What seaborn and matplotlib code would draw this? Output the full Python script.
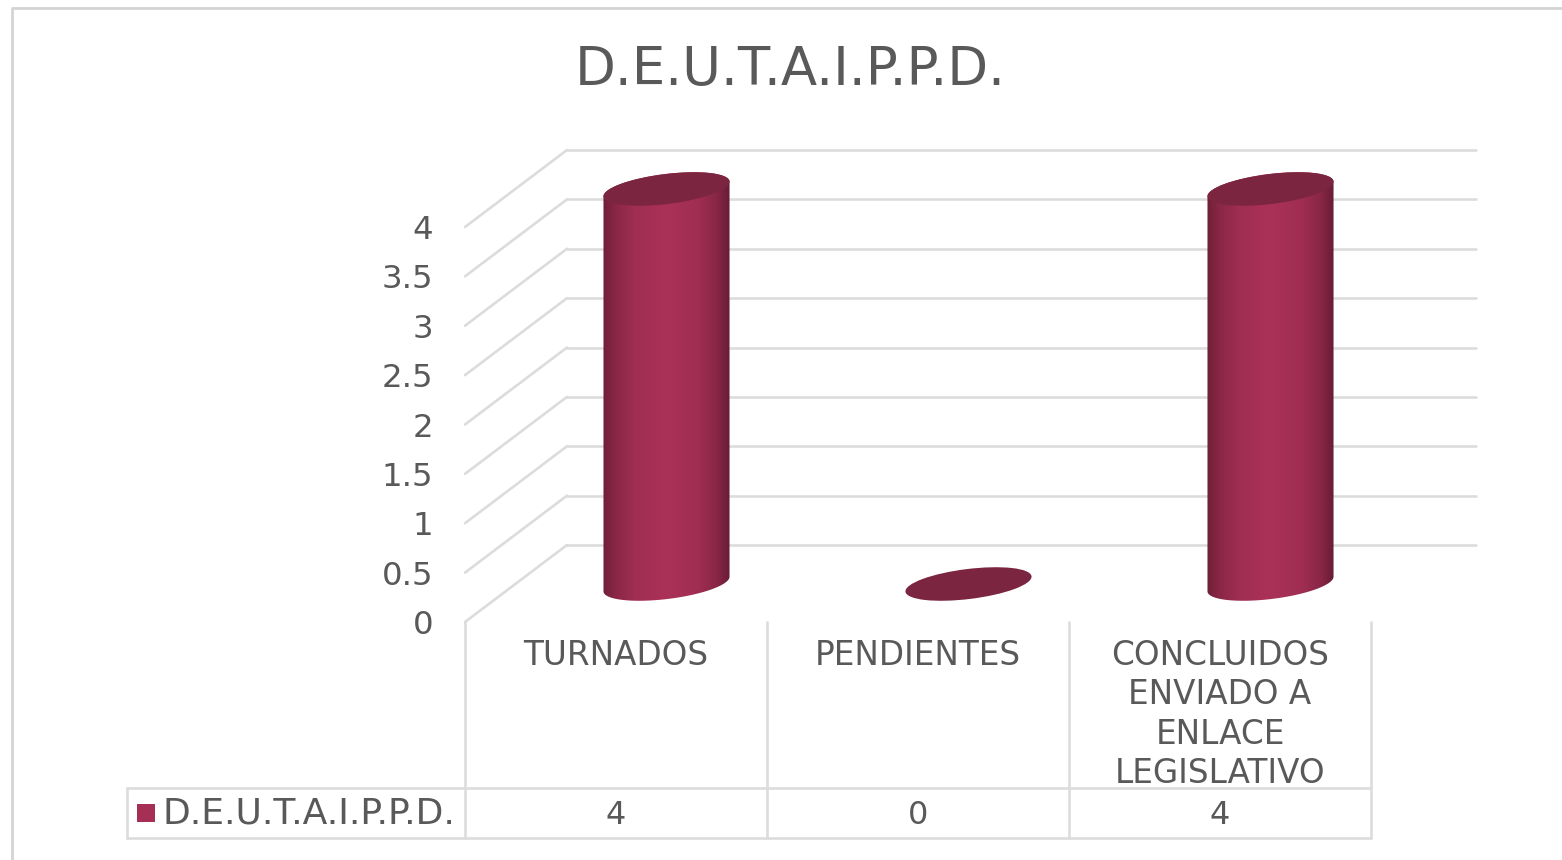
import numpy as np
import matplotlib
matplotlib.use("Agg")
import matplotlib.pyplot as plt
import seaborn as sns
import pandas as pd
from matplotlib.colors import LinearSegmentedColormap
from matplotlib.patches import Ellipse, PathPatch
from matplotlib.path import Path
from matplotlib.transforms import Affine2D, IdentityTransform, ScaledTranslation

categories = ["TURNADOS", "PENDIENTES", "CONCLUIDOS\nENVIADO A\nENLACE\nLEGISLATIVO"]
values = [4, 0, 4]
y_ticks = [0, 0.5, 1, 1.5, 2, 2.5, 3, 3.5, 4]
y_labels = ["0", "0.5", "1", "1.5", "2", "2.5", "3", "3.5", "4"]
series_name = "D.E.U.T.A.I.P.P.D."

W, H, DPI = 1562, 860, 100
TXT = "#595959"
LINE = "#dcdcdc"
BAR = "#a62f55"
TOP = "#7b2540"

sns.set_theme(style="white")
plt.rcParams["font.family"] = ["DejaVu Sans"]

fig = plt.figure(figsize=(W / DPI, H / DPI), dpi=DPI, facecolor="white")

# layout overlay in pixels: outer frame and data table rules
deco = fig.add_axes([0, 0, 1, 1], zorder=0)
deco.set_xlim(0, W)
deco.set_ylim(H, 0)
deco.axis("off")
deco.plot([12, 12, W], [H, 8, 8], color="#d4d4d4", lw=2)
for xs, ys in [([127, 1371], [788, 788]), ([127, 1371], [838, 838]), ([127, 127], [788, 838]),
               ([465, 465], [622, 838]), ([767, 767], [622, 838]),
               ([1069, 1069], [622, 838]), ([1371, 1371], [622, 838])]:
    deco.plot(xs, ys, color=LINE, lw=1.9)
deco.add_patch(plt.Rectangle((137, 804), 18, 18, color=BAR, lw=0))
deco.text(162, 814, series_name, fontsize=26, color=TXT, ha="left", va="center")
deco.text(790, 70, series_name, fontsize=38.2, color=TXT, ha="center", va="center")

# plot axes: front plane of the 3D box
ax = fig.add_axes([465 / W, (H - 622) / H, 906 / W, 395 / H], zorder=1)
ax.patch.set_alpha(0)
df = pd.DataFrame({"cat": categories, "val": values})
sns.barplot(data=df, x="cat", y="val", color=BAR, width=127 / 302, saturation=1, ax=ax, zorder=3)
ax.set_xlim(-0.5, 2.5)
ax.set_ylim(0, 4)
sns.despine(ax=ax, left=True, bottom=True, top=True, right=True)
ax.set_xlabel("")
ax.set_ylabel("")
ax.set_yticks(y_ticks, y_labels)
ax.tick_params(axis="y", length=0, pad=23, labelsize=23.3, labelcolor=TXT)
ax.tick_params(axis="x", length=0, pad=12, labelsize=23.5, labelcolor=TXT)
for lab in ax.get_xticklabels():
    lab.set_linespacing(1.25)
    lab.set_ha("center")
    lab.set_va("top")


def shift(dx, dy):
    return ScaledTranslation(dx / DPI, dy / DPI, fig.dpi_scale_trans)


# back wall and side wall gridlines
back = ax.transData + shift(102, 77)
for v in y_ticks:
    ax.plot([-0.5, 2.5 + 3 / 302], [v, v], color=LINE, lw=1.9, transform=back, clip_on=False, zorder=1)
    p0 = ax.transData.transform((-0.5, v))
    ax.add_line(plt.Line2D([p0[0], p0[0] + 102], [p0[1], p0[1] + 77], color=LINE, lw=1.9,
                           transform=IdentityTransform(), clip_on=False, zorder=1))

# cylinders: the seaborn bars are shifted to mid depth and shaded
mid = shift(50.5, 38)
cmap = LinearSegmentedColormap.from_list(
    "cyl", [(0, "#6f2039"), (0.1, "#8a2747"), (0.25, "#a02e52"), (0.5, "#ab3158"),
            (0.75, "#a02e52"), (0.9, "#882646"), (1, "#661d35")])
grad = np.linspace(0, 1, 256).reshape(1, -1)
RW, RH, ANG = 63.5, 15, 7

for bar, v in zip(ax.patches, values):
    bar.set_visible(False)
    cx = bar.get_x() + bar.get_width() / 2
    base = (ax.transData + mid).transform((cx, 0))
    top = (ax.transData + mid).transform((cx, v))
    ell = Affine2D().scale(RW, RH).rotate_deg(ANG)
    if v > 0:
        t = np.linspace(0, np.pi, 60)
        low = ell.transform(np.column_stack([np.cos(t + np.pi), np.sin(t + np.pi)])) + base
        up = ell.transform(np.column_stack([np.cos(t), np.sin(t)])) + top
        pts = np.vstack([low, up, low[:1]])
        clip = PathPatch(Path(pts), transform=IdentityTransform(), fc="none", ec="none")
        ax.add_patch(clip)
        clip.set_clip_on(False)
        im = ax.imshow(grad, cmap=cmap, aspect="auto", zorder=3,
                       extent=[bar.get_x(), bar.get_x() + bar.get_width(), -0.25, v + 0.25],
                       transform=ax.transData + mid)
        im.set_clip_box(fig.bbox)
        im.set_clip_path(clip)
    cap = Ellipse((0, 0), 2, 2, fc=TOP, ec="none", zorder=4, clip_on=False,
                  transform=ell + Affine2D().translate(*top))
    ax.add_patch(cap)

ax.set_xlim(-0.5, 2.5)
ax.set_ylim(0, 4)

# data table values
for i, v in enumerate(values):
    ax.text(i, (622 - 815) / 395, str(v), transform=ax.get_xaxis_transform(), fontsize=23,
            color=TXT, ha="center", va="center", clip_on=False)

fig.savefig("out.png", dpi=DPI, facecolor="white")
